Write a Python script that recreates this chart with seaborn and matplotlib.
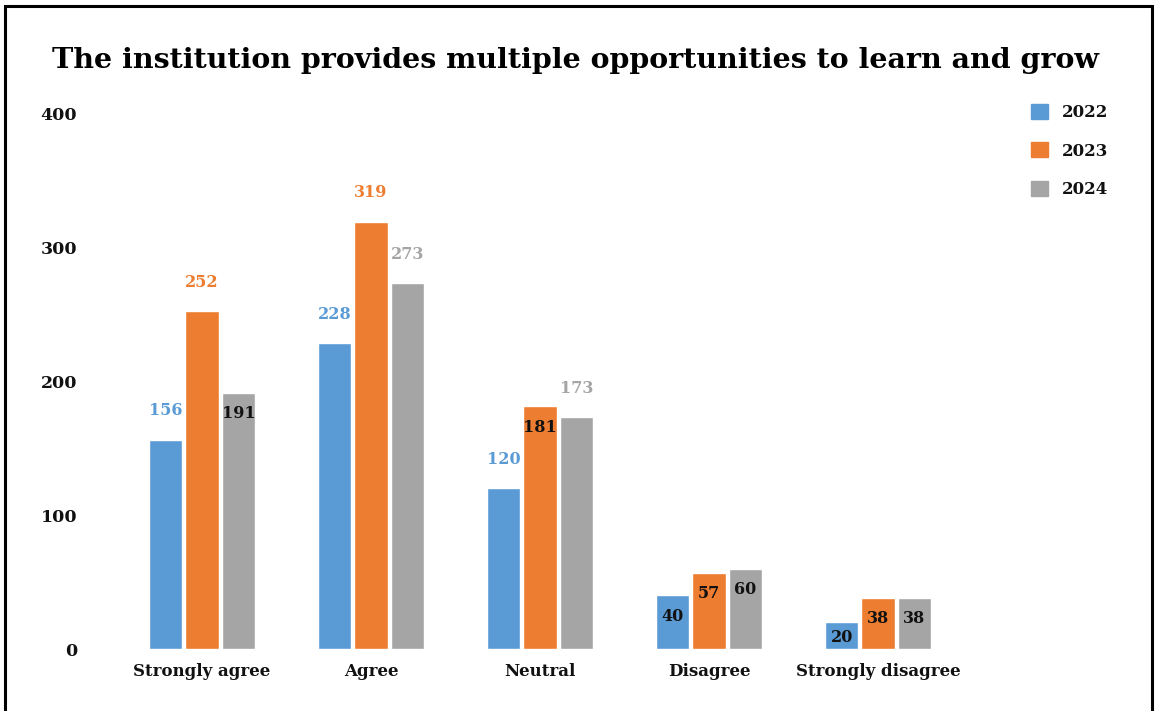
import matplotlib
matplotlib.use("Agg")
import matplotlib.pyplot as plt
import matplotlib.patches as mpatches
import pandas as pd
import seaborn as sns

# Survey responses per year
categories = ["Strongly agree", "Agree", "Neutral", "Disagree", "Strongly disagree"]
years = ["2022", "2023", "2024"]
values_2022 = [156, 228, 120, 40, 20]
values_2023 = [252, 319, 181, 57, 38]
values_2024 = [191, 273, 173, 60, 38]
y_ticks = [0, 100, 200, 300, 400]

colors = {"2022": "#5B9BD5", "2023": "#ED7D31", "2024": "#A5A5A5"}

df = pd.DataFrame({
    "category": categories * 3,
    "year": [y for y in years for _ in categories],
    "value": values_2022 + values_2023 + values_2024,
})

sns.set_theme(style="white")
plt.rcParams["font.family"] = ["DejaVu Serif"]
plt.rcParams["font.weight"] = "bold"

W, H = 1155, 711
fig = plt.figure(figsize=(W / 100, H / 100), dpi=100)
ax = fig.add_axes([117.5 / W, 1 - 649 / H, 845 / W, 536 / H])

sns.barplot(data=df, x="category", y="value", hue="year", order=categories,
            hue_order=years, palette=colors, width=0.645, gap=0.09,
            saturation=1, ax=ax, legend=False)

ax.set_xlim(-0.5, 4.5)
ax.set_ylim(0, 400)
ax.set_yticks(y_ticks)
ax.set_yticklabels([str(t) for t in y_ticks], fontsize=12.5, fontweight="bold",
                   color="#111111")
ax.tick_params(axis="y", length=0, pad=29)
ax.tick_params(axis="x", length=0, pad=10)
for lbl in ax.get_xticklabels():
    lbl.set_fontsize(12)
    lbl.set_fontweight("bold")
    lbl.set_color("#111111")
ax.set_xlabel("")
ax.set_ylabel("")
for s in ax.spines.values():
    s.set_visible(False)
ax.grid(False)

# Value labels: outside (coloured) when the bar has headroom, inside (black) otherwise
inside = {("2024", 0), ("2023", 2)}
for year, cont in zip(years, ax.containers):
    for i, bar in enumerate(cont):
        v = bar.get_height()
        cx = bar.get_x() + bar.get_width() / 2
        if v < 100 or (year, i) in inside:
            off = -11 if v < 30 else -15
            ax.annotate(f"{int(v)}", (cx, v), xytext=(0, off), textcoords="offset points",
                        ha="center", va="center", fontsize=11.5, fontweight="bold",
                        color="#111111")
        else:
            ax.annotate(f"{int(v)}", (cx, v), xytext=(0, 21), textcoords="offset points",
                        ha="center", va="center", fontsize=11.5, fontweight="bold",
                        color=colors[year])

# Legend
handles = [mpatches.Patch(color=colors[y], label=y) for y in years]
leg = fig.legend(handles=handles, loc="upper left", bbox_to_anchor=(1031 / W, 1 - 104 / H),
                 frameon=False, fontsize=12, handlelength=1.0, handleheight=1.0,
                 labelspacing=1.28, handletextpad=0.85, borderpad=0, borderaxespad=0)
for t in leg.get_texts():
    t.set_fontweight("bold")
    t.set_color("#111111")

fig.text(575 / W, 1 - 60 / H,
         "The institution provides multiple opportunities to learn and grow",
         ha="center", va="center", fontsize=20.5, fontweight="bold", color="#000000")

# Outer frame
fig.patches.append(mpatches.Rectangle((5 / W, -0.05), (1152 - 5) / W, 1 - 6 / H + 0.05,
                                      transform=fig.transFigure, fill=False,
                                      edgecolor="#000000", linewidth=2.2))

fig.savefig("out.png", dpi=100)
